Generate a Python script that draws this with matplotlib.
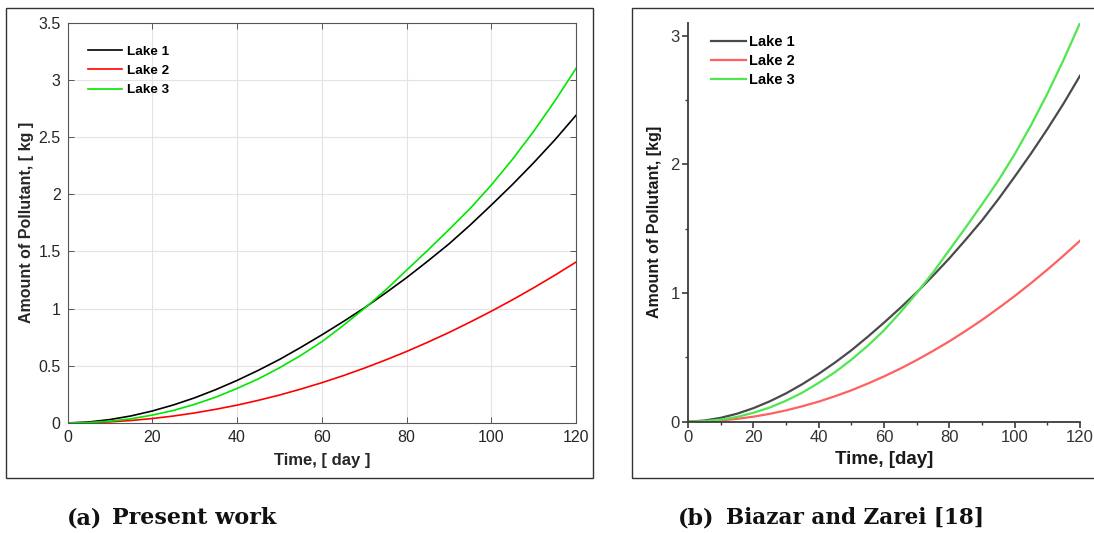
import matplotlib.pyplot as plt
from matplotlib.patches import Rectangle
from matplotlib.ticker import MultipleLocator

# amount of pollutant [kg] every 5 days
days = [0, 5, 10, 15, 20, 25, 30, 35, 40, 45, 50, 55, 60,
        65, 70, 75, 80, 85, 90, 95, 100, 105, 110, 115, 120]
lake1 = [0, 0.009, 0.030, 0.062, 0.105, 0.158, 0.220, 0.292, 0.372, 0.460, 0.555, 0.660, 0.770,
         0.885, 1.005, 1.135, 1.270, 1.415, 1.565, 1.730, 1.905, 2.085, 2.275, 2.475, 2.690]
lake2 = [0, 0.002, 0.010, 0.022, 0.039, 0.061, 0.088, 0.120, 0.156, 0.198, 0.244, 0.296, 0.352,
         0.413, 0.479, 0.550, 0.625, 0.706, 0.791, 0.882, 0.977, 1.077, 1.182, 1.292, 1.407]
lake3 = [0, 0.004, 0.016, 0.037, 0.069, 0.110, 0.163, 0.226, 0.302, 0.385, 0.482, 0.590, 0.710,
         0.850, 1.000, 1.160, 1.335, 1.510, 1.690, 1.875, 2.080, 2.305, 2.550, 2.815, 3.100]

labels = ["Lake 1", "Lake 2", "Lake 3"]
colors_a = ["#000000", "#ff0000", "#00e600"]
colors_b = ["#4a4a4a", "#ff6060", "#50e650"]
captions = ["(a)", "Present work", "(b)", "Biazar and Zarei [18]"]

W, H = 1094, 533
plt.rcParams["font.family"] = "Liberation Sans"


def fx(px):
    return px / W


def fy(py):
    return (H - py) / H


def main():
    fig = plt.figure(figsize=(W / 100, H / 100), dpi=100)

    # panel frames
    fig.add_artist(Rectangle((fx(6), fy(478)), fx(593) - fx(6), fy(8) - fy(478),
                             transform=fig.transFigure, fill=False, ec="#333333", lw=1.0))
    fig.add_artist(Rectangle((fx(632), fy(478)), fx(1110) - fx(632), fy(8) - fy(478),
                             transform=fig.transFigure, fill=False, ec="#333333", lw=1.0))

    # ---- (a) present work: matlab style ----
    ax = fig.add_axes([fx(67.5), fy(423), fx(576) - fx(67.5), fy(22.7) - fy(423)])
    for y, c, lab in zip([lake1, lake2, lake3], colors_a, labels):
        ax.plot(days, y, color=c, lw=1.2, label=lab)
    ax.set_xlim(0, 120)
    ax.set_ylim(0, 3.5)
    ax.xaxis.set_major_locator(MultipleLocator(20))
    ax.set_yticks([0, 0.5, 1, 1.5, 2, 2.5, 3, 3.5])
    ax.set_yticklabels(["0", "0.5", "1", "1.5", "2", "2.5", "3", "3.5"])
    ax.grid(True, color="#e3e3e3", lw=0.8)
    ax.tick_params(direction="in", top=True, right=True, length=4, width=0.7,
                   labelsize=11.5, colors="#555555", labelcolor="#262626", pad=5)
    for s in ax.spines.values():
        s.set_color("#555555")
        s.set_linewidth(0.8)
    ax.set_xlabel("Time, [ day ]", fontsize=12, fontweight="bold", color="#262626", labelpad=6)
    ax.set_ylabel("Amount of Pollutant, [ kg ]", fontsize=11.5, fontweight="bold", color="#262626", labelpad=3)
    ax.legend(loc="upper left", bbox_to_anchor=(-0.004, 1.0), frameon=False,
              prop={"weight": "bold", "size": 9.7}, handlelength=2.5, handletextpad=0.4,
              labelspacing=0.5, borderaxespad=1.3)

    # ---- (b) Biazar and Zarei ----
    bx = fig.add_axes([fx(688), fy(421.7), fx(1080) - fx(688), fy(23) - fy(421.7)])
    for y, c, lab in zip([lake1, lake2, lake3], colors_b, labels):
        bx.plot(days, y, color=c, lw=1.6, label=lab)
    bx.set_xlim(0, 120)
    bx.set_ylim(0, 3.1)
    bx.xaxis.set_major_locator(MultipleLocator(20))
    bx.xaxis.set_minor_locator(MultipleLocator(10))
    bx.yaxis.set_major_locator(MultipleLocator(1))
    bx.yaxis.set_minor_locator(MultipleLocator(0.5))
    bx.spines["top"].set_visible(False)
    bx.spines["right"].set_visible(False)
    for s in ("left", "bottom"):
        bx.spines[s].set_color("#3a3a3a")
        bx.spines[s].set_linewidth(1.3)
    bx.tick_params(which="major", direction="out", length=4, width=1.2,
                   labelsize=12, colors="#3a3a3a", labelcolor="#333333", pad=2)
    bx.tick_params(which="minor", direction="out", length=2.5, width=1.0, colors="#3a3a3a")
    bx.set_xlabel("Time, [day]", fontsize=13.5, fontweight="bold", color="#1a1a1a", labelpad=4)
    bx.set_ylabel("Amount of Pollutant, [kg]", fontsize=11.5, fontweight="bold", color="#1a1a1a", labelpad=6)
    bx.legend(loc="upper left", bbox_to_anchor=(0.01, 1.018), frameon=False,
              prop={"weight": "bold", "size": 10.5}, handlelength=2.4, handletextpad=0.2,
              labelspacing=0.35, borderaxespad=0.9)

    # captions
    cap = dict(fontsize=16, fontweight="bold", family="DejaVu Serif", va="center", color="#111111")
    fig.text(fx(67), fy(518), captions[0], **cap)
    fig.text(fx(112), fy(518), captions[1], **cap)
    fig.text(fx(678), fy(518), captions[2], **cap)
    fig.text(fx(726), fy(518), captions[3], fontsize=15.5, fontweight="bold",
             family="DejaVu Serif", va="center", color="#111111")

    fig.savefig("out.png", dpi=100)
    plt.close(fig)


if __name__ == "__main__":
    main()
